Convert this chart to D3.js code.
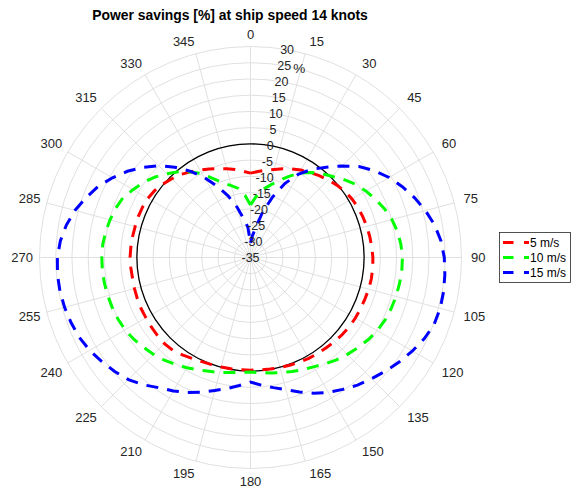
<!DOCTYPE html>
<html>
<head>
<meta charset="utf-8">
<script src="https://cdn.jsdelivr.net/npm/d3@7"></script>
<style>
  body { margin: 0; background: #fff; }
  svg { display: block; }
  text { font-family: "Liberation Sans", Arial, Helvetica, sans-serif; }
</style>
</head>
<body>
<svg id="chart" width="571" height="486"></svg>
<script>
// Wind direction relative to the bow [deg]
const windAngles = [
  0, 5, 10, 15, 20, 25, 30, 35, 40, 45,
  50, 55, 60, 65, 70, 75, 80, 85, 90, 95,
  100, 105, 110, 115, 120, 125, 130, 135, 140, 145,
  150, 155, 160, 165, 170, 175, 180, 185, 190, 195,
  200, 205, 210, 215, 220, 225, 230, 235, 240, 245,
  250, 255, 260, 265, 270, 275, 280, 285, 290, 295,
  300, 305, 310, 315, 320, 325, 330, 335, 340, 345,
  350, 355
];

// Power savings [%] for wind speed 5 m/s
const savings5 = [
  -9.0, -8.4, -7.7, -6.9, -5.9, -4.9, -3.9, -3.0, -2.1, -1.2,
  -0.3, 0.5, 1.1, 1.5, 1.8, 2.1, 2.3, 2.5, 2.7, 2.8,
  2.8, 2.7, 2.5, 2.4, 2.3, 2.2, 1.9, 1.6, 1.3, 1.1,
  0.9, 0.6, 0.3, 0.1, -0.1, -0.2, -0.3, -0.3, -0.2, -0.1,
  0.1, 0.4, 0.9, 1.6, 2.3, 2.5, 2.4, 2.3, 2.2, 2.2,
  2.1, 2.0, 1.9, 2.0, 2.1, 2.0, 1.9, 1.8, 1.8, 1.7,
  1.5, 1.0, 0.2, -0.7, -1.6, -2.8, -3.9, -4.9, -5.8, -6.7,
  -7.5, -8.3
];

// Power savings [%] for wind speed 10 m/s
const savings10 = [
  -18.8, -16.3, -13.8, -12.0, -9.9, -7.5, -5.0, -3.0, -1.2, 0.4,
  2.4, 4.4, 6.0, 7.5, 8.9, 10.1, 11.0, 11.5, 11.8, 11.8,
  11.6, 11.4, 11.1, 10.7, 10.1, 9.2, 8.2, 7.2, 6.2, 5.0,
  3.9, 3.1, 2.4, 1.7, 1.1, 0.6, 0.3, 0.5, 1.0, 1.7,
  2.3, 3.2, 4.2, 5.2, 6.3, 7.2, 8.0, 8.9, 9.6, 10.0,
  10.3, 10.5, 10.7, 10.8, 10.8, 10.7, 10.3, 9.8, 9.2, 8.4,
  6.8, 5.3, 3.5, 1.5, -0.5, -2.8, -5.2, -8.3, -10.5, -12.1,
  -13.4, -15.8
];

// Power savings [%] for wind speed 15 m/s
const savings15 = [
  -30.5, -28.3, -25.5, -20.5, -15.2, -9.8, -5.3, -1.8, 1.3, 4.9,
  8.6, 11.6, 14.3, 16.6, 18.8, 20.8, 22.6, 23.9, 24.7, 25.1,
  25.4, 25.5, 25.2, 24.1, 22.6, 21.0, 19.4, 17.8, 16.3, 14.6,
  13.0, 11.1, 9.1, 7.2, 5.7, 4.5, 3.4, 4.6, 6.0, 7.4,
  9.2, 10.9, 12.5, 14.0, 16.2, 18.2, 19.6, 20.9, 22.2, 23.2,
  23.8, 24.3, 24.6, 24.7, 24.5, 23.8, 22.6, 21.0, 18.9, 16.8,
  14.1, 11.3, 8.2, 5.0, 1.3, -2.5, -6.6, -10.8, -14.8, -18.9,
  -22.8, -25.6
];

const seriesNames = ["5 m/s", "10 m/s", "15 m/s"];
const seriesColors = ["#ff0000", "#00ff00", "#0000ff"];

const thetaTicks = [0, 15, 30, 45, 60, 75, 90, 105, 120, 135, 150, 165,
                    180, 195, 210, 225, 240, 255, 270, 285, 300, 315, 330, 345];
const rTicks = [-35, -30, -25, -20, -15, -10, -5, 0, 5, 10, 15, 20, 25, 30];
const rDomain = [-35, 30];
const rAxisUnit = "%";
const titleText = "Power savings [%] at ship speed 14 knots";

// ---- layout ----
const cx = 250.5, cy = 257.5, R = 211;
const rAxisAngle = 10;           // degrees, clockwise from top
const toRad = d => d * Math.PI / 180;

const svg = d3.select("#chart");
const r = d3.scaleLinear().domain(rDomain).range([0, R]);

const g = svg.append("g").attr("transform", `translate(${cx},${cy})`);

// grid: rings
g.append("g").selectAll("circle")
  .data(rTicks.filter(t => t > rDomain[0]))
  .join("circle")
  .attr("r", d => r(d))
  .attr("fill", "none")
  .attr("stroke", "#dcdcdc")
  .attr("stroke-width", 0.9);

// grid: spokes
g.append("g").selectAll("line")
  .data(thetaTicks)
  .join("line")
  .attr("x1", 0).attr("y1", 0)
  .attr("x2", d => R * Math.sin(toRad(d)))
  .attr("y2", d => -R * Math.cos(toRad(d)))
  .attr("stroke", "#dcdcdc")
  .attr("stroke-width", 0.9);

// zero-savings reference circle
g.append("circle")
  .attr("r", r(0))
  .attr("fill", "none")
  .attr("stroke", "#000")
  .attr("stroke-width", 1.3);

// series curves
const radial = d3.lineRadial()
  .angle(d => toRad(d[0]))
  .radius(d => r(d[1]))
  .curve(d3.curveLinear);

const seriesValues = [savings5, savings10, savings15];
seriesValues.forEach((vals, i) => {
  const pts = windAngles.map((a, k) => [a, vals[k]]);
  pts.push([360, vals[0]]);
  g.append("path")
    .attr("d", radial(pts))
    .attr("fill", "none")
    .attr("stroke", seriesColors[i])
    .attr("stroke-width", 3)
    .attr("stroke-dasharray", "12,9");
});

// theta tick labels: anchored just outside the outer ring,
// left/right aligned on the two sides, centred at top and bottom
const thetaLabels = g.append("g")
  .attr("font-size", 13)
  .attr("fill", "#262626");
const labelRadius = R + 7;
const halfH = 5.5;
thetaTicks.forEach(t => {
  const txt = thetaLabels.append("text")
    .attr("text-anchor", "middle")
    .attr("dominant-baseline", "central")
    .text(String(t));
  const w = txt.node().getComputedTextLength();
  const s = Math.sin(toRad(t)), c = Math.cos(toRad(t));
  const side = Math.abs(s) < 1e-6 ? 0 : Math.sign(s);
  const vshift = halfH * Math.max(-1, Math.min(1, 2 * c));
  const x = labelRadius * s + side * (w / 2 + 1) + (side !== 0 ? 1.5 : 0);
  const y = -labelRadius * c - vshift;
  txt.attr("x", x).attr("y", y);
});

// radial tick labels along the r-axis
const rLabels = g.append("g")
  .attr("font-size", 12.5)
  .attr("fill", "#262626");
rTicks.forEach(t => {
  rLabels.append("text")
    .attr("x", r(t) * Math.sin(toRad(rAxisAngle)))
    .attr("y", -r(t) * Math.cos(toRad(rAxisAngle)))
    .attr("text-anchor", "middle")
    .attr("dominant-baseline", "central")
    .text(String(t));
});
// r-axis unit
const unitPos = r(25);
rLabels.append("text")
  .attr("x", unitPos * Math.sin(toRad(rAxisAngle)) + 15)
  .attr("y", -unitPos * Math.cos(toRad(rAxisAngle)) + 3)
  .attr("text-anchor", "middle")
  .attr("dominant-baseline", "central")
  .attr("font-size", 13.5)
  .text(rAxisUnit);

// title
svg.append("text")
  .attr("x", 230)
  .attr("y", 20)
  .attr("text-anchor", "middle")
  .attr("font-size", 13.9)
  .attr("font-weight", "bold")
  .attr("fill", "#000")
  .text(titleText);

// legend
const lg = svg.append("g").attr("transform", "translate(499.5,232.5)");
lg.append("rect")
  .attr("width", 71).attr("height", 50)
  .attr("fill", "#fff")
  .attr("stroke", "#262626")
  .attr("stroke-width", 0.8);
seriesNames.forEach((name, i) => {
  const y = 10 + i * 15;
  lg.append("line")
    .attr("x1", 3.5).attr("x2", 29.5)
    .attr("y1", y).attr("y2", y)
    .attr("stroke", seriesColors[i])
    .attr("stroke-width", 3)
    .attr("stroke-dasharray", "10.5,10.5");
  lg.append("text")
    .attr("x", 30.5).attr("y", y)
    .attr("dominant-baseline", "central")
    .attr("font-size", 12)
    .attr("fill", "#000")
    .text(name);
});
</script>
</body>
</html>
